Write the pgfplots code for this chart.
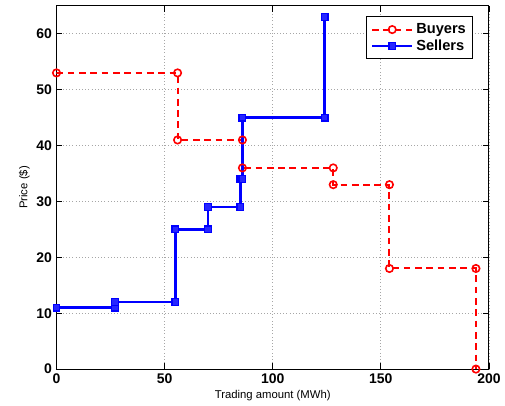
\documentclass[border={11pt 0pt 0pt 4pt}]{standalone}
\usepackage{pgfplots}
\pgfplotsset{compat=1.18}
\usepackage{fontspec}
\setmainfont{Liberation Sans}
\begin{document}
\begin{tikzpicture}
\begin{axis}[
  scale only axis,
  width=325pt, height=273pt,
  xmin=0, xmax=200, ymin=0, ymax=65,
  xtick={0,50,100,150,200}, ytick={0,10,20,30,40,50,60},
  tick align=inside,
  grid=major,
  major grid style={dotted, gray!70, line width=0.6pt},
  axis line style={line width=0.8pt},
  tick style={black, line width=0.6pt},
  ticklabel style={font=\bfseries\fontsize{10.5}{12}\selectfont},
  /pgf/number format/assume math mode=true,
  xlabel={Trading amount (MWh)},
  ylabel={Price (\$)},
  label style={font=\fontsize{8.5}{10}\selectfont},
  xlabel style={yshift=2pt},
  ylabel style={yshift=-2pt},
  legend style={at={(1,1)}, xshift=-12pt, yshift=-8pt, anchor=north east, font=\bfseries\fontsize{11}{13}\selectfont, draw=black, line width=0.6pt, inner sep=3pt, row sep=-1pt},
  legend cell align=left,
  legend image code/.code={\draw[mark repeat=2,mark phase=2,#1] plot coordinates {(0cm,0cm) (0.53cm,0cm) (1.06cm,0cm)};},
]
\addplot[red, dash pattern=on 5pt off 3.5pt, line width=1.5pt, mark=o, mark size=2.8pt, mark options={solid, fill=white, line width=1.2pt}]
coordinates {(0,53) (56,53) (56,41) (86,41) (86,36) (128,36) (128,33) (154,33) (154,18) (194,18) (194,0)};
\addlegendentry{Buyers}
\addplot[blue, solid, line width=2pt, mark=square*, mark size=2.5pt, mark options={fill=blue!85, line width=1pt}]
coordinates {(0,11) (27,11) (27,12) (55,12) (55,25) (70,25) (70,29) (85,29) (85,34) (86,34) (86,45) (124,45) (124,63)};
\addlegendentry{Sellers}
\end{axis}
\end{tikzpicture}
\end{document}
